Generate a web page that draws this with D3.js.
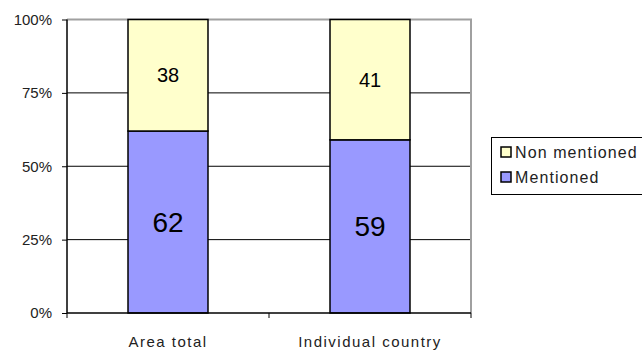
<!DOCTYPE html>
<html>
<head>
<meta charset="utf-8">
<script src="https://cdn.jsdelivr.net/npm/d3@7"></script>
<style>
  body { margin: 0; background: #fff; }
  svg text { font-family: "Liberation Sans", Arial, sans-serif; }
</style>
</head>
<body>
<svg id="vimage" width="642" height="351"></svg>
<script>
//---------------------------------------- data ---------------------------------------
var categories = ["Area total", "Individual country"];
var mentioned = [62, 59];
var nonMentioned = [38, 41];
var seriesNames = ["Non mentioned", "Mentioned"];
var yTicks = [0, 0.25, 0.5, 0.75, 1];

var rows = categories.map(function (c, i) {
    return {"category": c, "Mentioned": mentioned[i], "Non mentioned": nonMentioned[i]};
});

//---------------------------------------- layout ---------------------------------------
var plotLeft = 67, plotRight = 471, plotTop = 19.5, plotBottom = 313;

var svg = d3.select("#vimage");

var x = d3.scaleBand()
    .domain(categories)
    .range([plotLeft, plotRight])
    .paddingInner(0.604)
    .paddingOuter(0.302);

var y = d3.scaleLinear().domain([0, 1]).range([plotBottom, plotTop]);

var color = d3.scaleOrdinal()
    .domain(seriesNames)
    .range(["#ffffcc", "#9999ff"]);

// stack: Mentioned at the bottom, Non mentioned on top
var stack = d3.stack()
    .keys(["Mentioned", "Non mentioned"])
    .offset(d3.stackOffsetExpand)(rows);

//---------------------------------------- grid + frame ---------------------------------------
svg.append("g")
    .selectAll("line")
    .data(yTicks.filter(function (t) { return t > 0 && t < 1; }))
    .enter().append("line")
    .attr("x1", plotLeft)
    .attr("x2", plotRight)
    .attr("y1", function (d) { return y(d); })
    .attr("y2", function (d) { return y(d); })
    .style("stroke", "#000")
    .style("stroke-width", 1);

// gray plot border, top and right
svg.append("path")
    .attr("d", "M" + plotLeft + "," + y(1) + "H" + plotRight + "V" + plotBottom)
    .style("fill", "none")
    .style("stroke", "#a0a0a0")
    .style("stroke-width", 2);

//---------------------------------------- bars ---------------------------------------
var layers = svg.selectAll(".layer")
    .data(stack)
    .enter().append("g")
    .attr("class", "layer")
    .style("fill", function (d) { return color(d.key); });

layers.selectAll("rect")
    .data(function (d) { return d; })
    .enter().append("rect")
    .attr("x", function (d) { return x(d.data.category); })
    .attr("y", function (d) { return y(d[1]); })
    .attr("width", x.bandwidth())
    .attr("height", function (d) { return y(d[0]) - y(d[1]); })
    .style("stroke", "#000")
    .style("stroke-width", 1.5);

layers.selectAll("text")
    .data(function (d) {
        return d.map(function (s) { s.key = d.key; return s; });
    })
    .enter().append("text")
    .attr("x", function (d) { return x(d.data.category) + x.bandwidth() / 2; })
    .attr("y", function (d) { return (y(d[0]) + y(d[1])) / 2; })
    .attr("dy", "0.36em")
    .attr("text-anchor", "middle")
    .style("fill", "#000")
    .style("font-size", function (d) { return d.key == "Mentioned" ? "28px" : "20px"; })
    .text(function (d) { return d.data[d.key]; });

//---------------------------------------- axes ---------------------------------------
var yAxis = svg.append("g")
    .attr("transform", "translate(" + plotLeft + ",0)")
    .call(d3.axisLeft(y).tickValues(yTicks).tickSize(5).tickPadding(10)
        .tickFormat(function (d) { return Math.round(d * 100) + "%"; }));

yAxis.select(".domain").attr("d", "M0," + plotTop + "V" + plotBottom).style("stroke-width", 1.5);
yAxis.selectAll("text")
    .style("font-size", "15px")
    .style("fill", "#222")
    .style("font-family", "'Liberation Sans', Arial, sans-serif");

// bottom axis: ticks sit between the categories
var xAxis = svg.append("g");
xAxis.append("line")
    .attr("x1", plotLeft)
    .attr("x2", plotRight)
    .attr("y1", plotBottom)
    .attr("y2", plotBottom)
    .style("stroke", "#000")
    .style("stroke-width", 1.5);

var xTickPos = d3.range(categories.length + 1).map(function (i) { return plotLeft + i * x.step(); });
xAxis.selectAll(".xtick")
    .data(xTickPos)
    .enter().append("line")
    .attr("class", "xtick")
    .attr("x1", function (d) { return d; })
    .attr("x2", function (d) { return d; })
    .attr("y1", plotBottom)
    .attr("y2", plotBottom + 5)
    .style("stroke", "#000");

xAxis.selectAll(".xlabel")
    .data(categories)
    .enter().append("text")
    .attr("class", "xlabel")
    .attr("x", function (d) { return x(d) + x.bandwidth() / 2; })
    .attr("y", 347)
    .attr("text-anchor", "middle")
    .style("font-size", "15px")
    .style("letter-spacing", "1.5px")
    .style("fill", "#222")
    .text(function (d) { return d; });

//---------------------------------------- legend ---------------------------------------
var legend = svg.append("g").attr("transform", "translate(491,137)");

legend.append("rect")
    .attr("x", 0.5)
    .attr("y", 0.5)
    .attr("width", 200)
    .attr("height", 57)
    .style("fill", "#fff")
    .style("stroke", "#000")
    .style("stroke-width", 1);

var legendItems = legend.selectAll(".legendItem")
    .data(seriesNames)
    .enter().append("g")
    .attr("class", "legendItem")
    .attr("transform", function (d, i) { return "translate(10," + (10 + i * 25) + ")"; });

legendItems.append("rect")
    .attr("x", 0)
    .attr("y", 0)
    .attr("width", 10)
    .attr("height", 10)
    .style("fill", function (d) { return color(d); })
    .style("stroke", "#000")
    .style("stroke-width", 1.5);

legendItems.append("text")
    .attr("x", 14)
    .attr("y", 11)
    .style("font-size", "16px")
    .style("letter-spacing", "1.1px")
    .style("fill", "#222")
    .text(function (d) { return d; });
</script>
</body>
</html>
